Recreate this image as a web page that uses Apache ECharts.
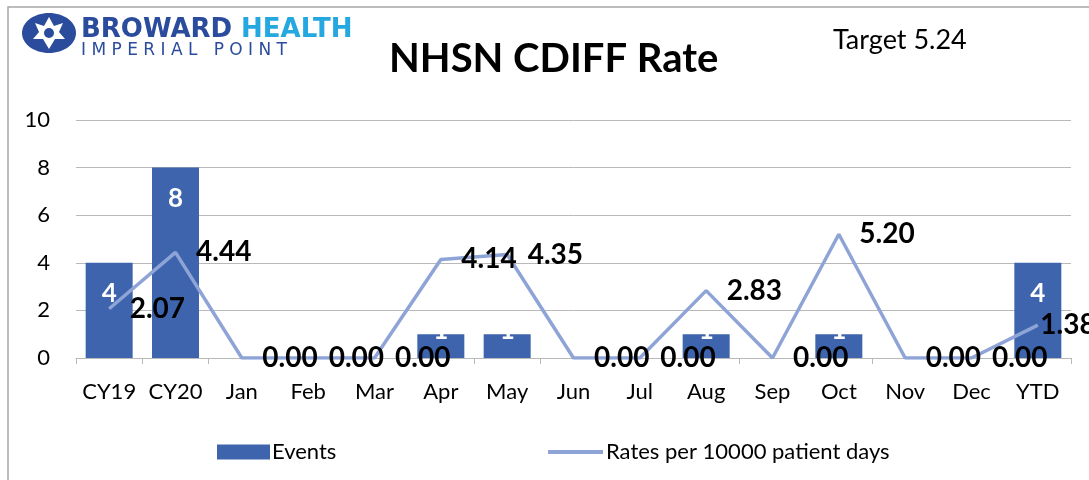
<!DOCTYPE html>
<html>
<head>
<meta charset="utf-8">
<title>NHSN CDIFF Rate</title>
<script src="https://cdn.jsdelivr.net/npm/echarts@6/dist/echarts.min.js"></script>
<style>
  html, body { margin: 0; padding: 0; background: #fff; }
  #chart { width: 1089px; height: 480px; }
</style>
</head>
<body>
<div id="chart"></div>
<script>
const categories = ['CY19', 'CY20', 'Jan', 'Feb', 'Mar', 'Apr', 'May', 'Jun', 'Jul', 'Aug', 'Sep', 'Oct', 'Nov', 'Dec', 'YTD']
const events = [4, 8, 0, 0, 0, 1, 1, 0, 0, 1, 0, 1, 0, 0, 4]
const rates = [2.07, 4.44, 0, 0, 0, 4.14, 4.35, 0, 0, 2.83, 0, 5.20, 0, 0, 1.38]
const yTicks = [0, 2, 4, 6, 8, 10]
const targetRate = 5.24

const FONT = 'Lato, "Open Sans", sans-serif'
const barColor = '#3D64AD'
const lineColor = '#8EA3D6'
const gridColor = '#B9B9B9'

const chart = echarts.init(document.getElementById('chart'))

// short bars: label sits mostly above the bar (white on white), like the original
const barData = events.map(v => {
  if (v > 0 && v < 2) {
    return { value: v, label: { position: 'top', distance: -9 } }
  }
  return v
})

// last point label is pushed back in at the right edge
const lineData = rates.map((v, i) => {
  if (i === rates.length - 1) {
    return { value: v, label: { distance: 2 } }
  }
  return v
})

const option = {
  animation: false,
  textStyle: { fontFamily: FONT },
  title: {
    text: 'NHSN CDIFF Rate',
    left: 384,
    top: 34,
    textStyle: { fontFamily: FONT, fontSize: 40, fontWeight: 'bold', color: '#000' }
  },
  graphic: [
    // chart border
    {
      type: 'rect',
      shape: { x: 8, y: 7, width: 1200, height: 600 },
      style: { fill: 'none', stroke: '#A6A6A6', lineWidth: 1.5 },
      silent: true
    },
    {
      type: 'text',
      left: 833,
      top: 27,
      style: { text: 'Target ' + targetRate.toFixed(2), fontSize: 27, fontFamily: FONT, fill: '#000' }
    },
    // logo
    {
      type: 'group',
      left: 22,
      top: 13,
      children: [
        { type: 'ellipse', shape: { cx: 26, cy: 21, rx: 27, ry: 20 }, style: { fill: '#2B4C9C' } },
        {
          type: 'polygon',
          shape: {
            points: [
              [26, 5], [31, 14], [40, 11], [36, 20], [42, 27], [32, 27],
              [26, 37], [20, 27], [10, 27], [16, 20], [12, 11], [21, 14]
            ]
          },
          style: { fill: '#fff' }
        },
        { type: 'circle', shape: { cx: 26, cy: 21, r: 5 }, style: { fill: '#2B4C9C' } },
        {
          type: 'text', x: 58, y: 5,
          style: { text: 'BROWARD', fontSize: 26, fontWeight: 'bold', fontFamily: '"DejaVu Sans"', fill: '#2B4C9C' }
        },
        {
          type: 'text', x: 218, y: 5,
          style: { text: 'HEALTH', fontSize: 26, fontWeight: 'bold', fontFamily: '"DejaVu Sans"', fill: '#25A8E0' }
        },
        {
          type: 'text', x: 58, y: 30,
          style: { text: 'I M P E R I A L   P O I N T', fontSize: 17, fontFamily: '"DejaVu Sans"', fill: '#2B4C9C' }
        }
      ]
    }
  ],
  legend: [
    {
      data: [{ name: 'Events', icon: 'rect' }],
      left: 212,
      top: 436,
      itemWidth: 53,
      itemHeight: 15,
      itemGap: 4,
      textStyle: { fontFamily: FONT, fontSize: 22, color: '#000', padding: [0, 0, 0, -3] }
    },
    {
      data: [{ name: 'Rates per 10000 patient days', icon: 'rect', itemStyle: { color: lineColor, opacity: 1 } }],
      left: 543,
      top: 436,
      itemWidth: 55,
      itemHeight: 4,
      textStyle: { fontFamily: FONT, fontSize: 22, color: '#000', padding: [0, 0, 0, -2] }
    }
  ],
  grid: {
    left: 76,
    right: 18,
    top: 120,
    bottom: 122
  },
  xAxis: {
    type: 'category',
    data: categories,
    axisLine: { lineStyle: { color: gridColor, width: 1 } },
    axisTick: { show: true, length: 6, lineStyle: { color: gridColor } },
    axisLabel: { color: '#000', fontSize: 22, fontFamily: FONT, margin: 23, interval: 0 }
  },
  yAxis: {
    type: 'value',
    min: yTicks[0],
    max: yTicks[yTicks.length - 1],
    interval: 2,
    axisLine: { show: false },
    axisTick: { show: false },
    axisLabel: { color: '#000', fontSize: 22, fontFamily: FONT, margin: 26 },
    splitLine: { lineStyle: { color: gridColor, width: 1 } }
  },
  series: [
    {
      name: 'Events',
      type: 'bar',
      data: barData,
      barWidth: 47,
      itemStyle: { color: barColor },
      label: {
        show: true,
        position: 'insideTop',
        distance: 18,
        color: '#fff',
        fontSize: 26,
        fontWeight: 'bold',
        fontFamily: FONT,
        formatter: p => (p.value > 0 ? p.value : '')
      },
      z: 2
    },
    {
      name: 'Rates per 10000 patient days',
      type: 'line',
      data: lineData,
      symbol: 'circle',
      symbolSize: 1,
      showSymbol: true,
      lineStyle: { color: lineColor, width: 3.5 },
      itemStyle: { color: 'rgba(0,0,0,0)' },
      label: {
        show: true,
        position: 'right',
        distance: 20,
        offset: [0, 3],
        color: '#000',
        fontSize: 28,
        fontWeight: 'bold',
        fontFamily: FONT,
        formatter: p => p.value.toFixed(2)
      },
      labelLayout: { hideOverlap: false },
      z: 3
    }
  ]
}

chart.setOption(option)
</script>
</body>
</html>
